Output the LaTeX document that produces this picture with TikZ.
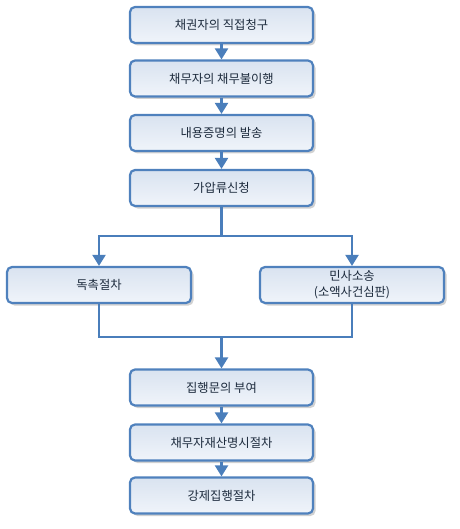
\documentclass[tikz,border=0pt]{standalone}
\usepackage{fontspec}
\setmainfont{Noto Sans CJK KR}
\usetikzlibrary{shadows,arrows.meta}
\definecolor{bordc}{HTML}{4F81BD}
\definecolor{linec}{HTML}{4A7EBB}
\definecolor{topc}{HTML}{D9E3F0}
\definecolor{botc}{HTML}{F0F4FA}
\definecolor{txtc}{HTML}{1C2A3C}
\tikzset{
  box/.style={draw=bordc, line width=2.2pt, rounded corners=5pt,
    top color=topc, bottom color=botc, minimum height=36pt,
    text=txtc, font=\fontsize{12.3}{16}\selectfont, align=center, inner sep=1pt,
    drop shadow={shadow xshift=2.5pt, shadow yshift=-2.5pt, fill=black, opacity=0.18}},
  mainbox/.style={box, minimum width=183pt},
  sidebox/.style={box, minimum width=184pt},
  conn/.style={draw=linec, line width=2.2pt},
  arr/.style={conn, -{Triangle[width=13pt,length=11pt]}}
}
\begin{document}
\begin{tikzpicture}[x=1pt,y=-1pt]
\useasboundingbox (0,0) rectangle (459,529);
\node[mainbox] (b1) at (221.5,25) {채권자의 직접청구};
\node[mainbox] (b2) at (221.5,78.5) {채무자의 채무불이행};
\node[mainbox] (b3) at (221.5,133) {내용증명의 발송};
\node[mainbox] (b4) at (221.5,188) {가압류신청};
\node[sidebox] (bl) at (99,285) {독촉절차};
\node[sidebox] (br) at (352,285) {민사소송\\(소액사건심판)};
\node[mainbox] (b5) at (221.5,387.5) {집행문의 부여};
\node[mainbox] (b6) at (221.5,442.5) {채무자재산명시절차};
\node[mainbox] (b7) at (221.5,495.5) {강제집행절차};
\coordinate (split) at (221.5,236);
\coordinate (join) at (221.5,337);
\draw[arr] (b1) -- (b2);
\draw[arr] (b2) -- (b3);
\draw[arr] (b3) -- (b4);
\draw[conn] (b4) -- (split);
\draw[arr] (split) -| (bl);
\draw[arr] (split) -| (br);
\draw[conn] (bl.south) |- (join);
\draw[conn] (br.south) |- (join);
\draw[arr] (join) -- (b5);
\draw[arr] (b5) -- (b6);
\draw[arr] (b6) -- (b7);
\end{tikzpicture}
\end{document}
